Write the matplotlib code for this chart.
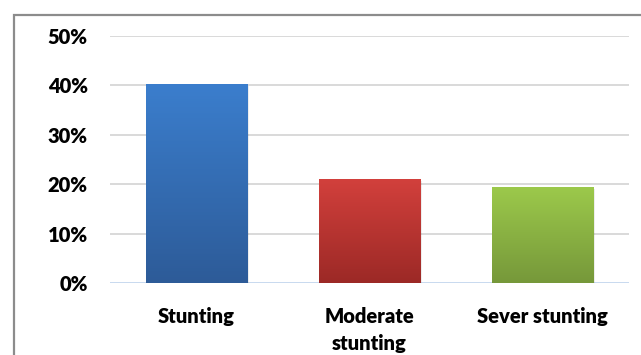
import numpy as np
import matplotlib
matplotlib.use("Agg")
import matplotlib.pyplot as plt
from matplotlib.patches import Rectangle
from matplotlib.colors import LinearSegmentedColormap

categories = ["Stunting", "Moderate\nstunting", "Sever stunting"]
values = [40.2, 21.0, 19.4]
yticks = [0, 10, 20, 30, 40, 50]
ytick_labels = ["0%", "10%", "20%", "30%", "40%", "50%"]
top_colors = ["#3B7ECD", "#D2403C", "#9CC94B"]
bottom_colors = ["#2D5B98", "#9C2926", "#76983A"]

W, H = 641, 355
fig = plt.figure(figsize=(W / 100, H / 100), dpi=100)
fig.patches.append(Rectangle((14 / W, -0.1), 1.2, 1 - 15 / H + 0.1, transform=fig.transFigure,
                             fill=False, edgecolor="#8C8C8C", linewidth=1.6, zorder=0))

ax = fig.add_axes([110 / W, 1 - 283 / H, (629 - 110) / W, (283 - 36) / H])
ax.set_xlim(-0.5, 2.5)
ax.set_ylim(0, 50)
for s in ax.spines.values():
    s.set_visible(False)
ax.set_yticks(yticks)
ax.set_yticklabels(ytick_labels)
ax.grid(axis="y", color="#D9D9D9", linewidth=1.4)
ax.set_axisbelow(True)
ax.axhline(0, color="#C9DAF0", linewidth=1.4, zorder=1)
ax.tick_params(length=0)
ax.tick_params(axis="y", pad=16)
ax.tick_params(axis="x", pad=17)
for lab in ax.get_yticklabels():
    lab.set_fontfamily("Lato")
    lab.set_fontweight("heavy")
    lab.set_fontsize(14.5)

x = np.arange(len(categories))
bars = ax.bar(x, values, width=0.585, color="none", zorder=2)
ax.set_xticks(x)
ax.set_xticklabels(categories, fontfamily="Lato", fontweight="heavy", fontsize=14.5,
                   linespacing=1.5, va="top")

grad = np.linspace(0, 1, 256).reshape(-1, 1)
for b, tc, bc in zip(bars, top_colors, bottom_colors):
    x0, w, h = b.get_x(), b.get_width(), b.get_height()
    ax.add_patch(Rectangle((x0 + 0.012, -0.3), w, h, facecolor="#000000", alpha=0.07,
                           edgecolor="none", zorder=2))
    cmap = LinearSegmentedColormap.from_list("g", [tc, bc])
    ax.imshow(grad, cmap=cmap, extent=[x0, x0 + w, 0, h], origin="upper", aspect="auto",
              zorder=3, interpolation="bilinear")
ax.set_xlim(-0.5, 2.5)
ax.set_ylim(0, 50)

fig.savefig("out.png", dpi=100)
